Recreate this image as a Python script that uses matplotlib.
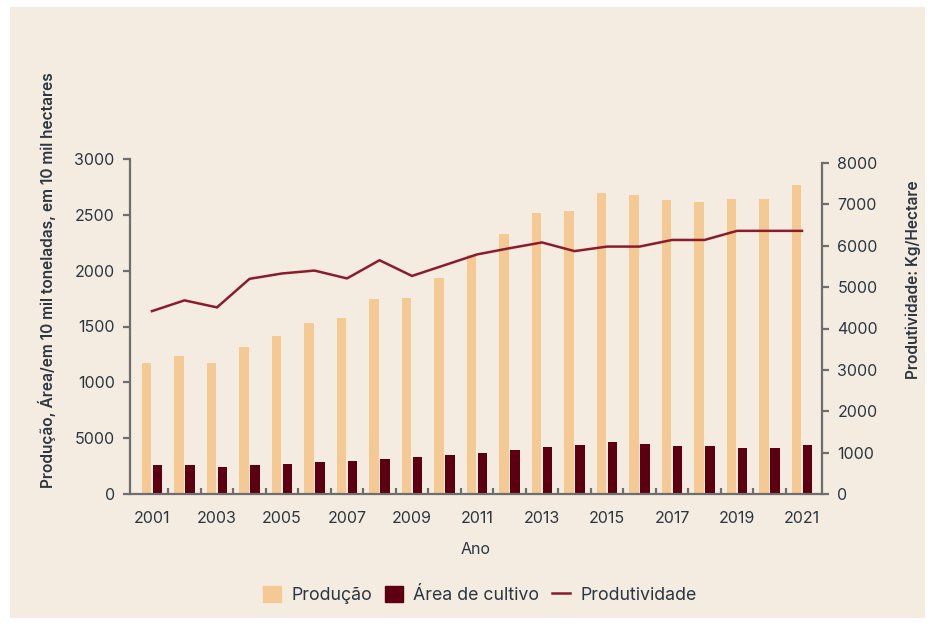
import matplotlib
matplotlib.use("Agg")
import matplotlib.pyplot as plt
import matplotlib.patches as mpatches
from matplotlib.lines import Line2D
import numpy as np

# data
anos = list(range(2001, 2022))
producao = [1173, 1236, 1173, 1316, 1415, 1531, 1576, 1746, 1755, 1934, 2140,
            2328, 2516, 2534, 2695, 2678, 2633, 2615, 2642, 2642, 2767]
area_cultivo = [260, 260, 242, 260, 269, 287, 296, 313, 331, 349, 367,
                394, 421, 439, 466, 448, 430, 430, 412, 412, 439]
produtividade = [4420, 4680, 4510, 5200, 5330, 5400, 5210, 5650, 5270, 5530, 5790,
                 5940, 6080, 5870, 5980, 5980, 6140, 6140, 6360, 6360, 6360]
left_ticks = [0, 500, 1000, 1500, 2000, 2500, 3000]
left_labels = ["0", "5000", "1000", "1500", "2000", "2500", "3000"]
right_ticks = [0, 1000, 2000, 3000, 4000, 5000, 6000, 7000, 8000]
x_labels = [str(a) for a in anos[::2]]

bg = "#f5ece1"
c_prod = "#f5c993"
c_area = "#5c0011"
c_line = "#8b1c2c"
c_axis = "#6e6e6e"
c_text = "#2b3640"

plt.rcParams['font.family'] = ['Inter', 'DejaVu Sans']

fig = plt.figure(figsize=(9.32, 6.23), dpi=100)
fig.patch.set_facecolor("white")
fig.patches.append(mpatches.Rectangle((10 / 932, 5 / 623), 915 / 932, 611 / 623,
                                      transform=fig.transFigure, facecolor=bg,
                                      edgecolor="none", zorder=-10))

ax = fig.add_axes([130 / 932, 129 / 623, 692 / 932, 335 / 623])
ax.set_facecolor("none")
ax2 = ax.twinx()

x = np.array(anos)
w = 0.285
ax.bar(x - 0.17, producao, width=w, color=c_prod, zorder=2)
ax.bar(x + 0.17, area_cultivo, width=w, color=c_area, zorder=2)
ax2.plot(x, produtividade, color=c_line, lw=1.8, zorder=3)

ax.set_xlim(2000.323, 2021.615)
ax.set_ylim(0, 3000)
ax2.set_ylim(0, 8000 * 335 / 331)

ax.set_yticks(left_ticks)
ax.set_yticklabels(left_labels)
ax2.set_yticks(right_ticks)
ax.set_xticks(anos[::2])
ax.set_xticklabels(x_labels)
ax.set_xticks(np.arange(2001.5, 2021, 1.0), minor=True)

for a in (ax, ax2):
    for s in a.spines.values():
        s.set_visible(False)
ax.spines['left'].set_visible(True)
ax.spines['bottom'].set_visible(True)
ax2.spines['right'].set_visible(True)
ax2.spines['right'].set_bounds(0, 8000)
for s in (ax.spines['left'], ax.spines['bottom'], ax2.spines['right']):
    s.set_color(c_axis)
    s.set_linewidth(1.6)

ax.tick_params(axis='y', direction='out', length=5, width=1.6, color=c_axis,
               labelsize=11.5, labelcolor=c_text, pad=6)
ax2.tick_params(axis='y', direction='out', length=5, width=1.6, color=c_axis,
                labelsize=11.5, labelcolor=c_text, pad=6)
ax.tick_params(axis='x', which='major', length=0, labelsize=11.5, labelcolor=c_text, pad=12)
ax.tick_params(axis='x', which='minor', direction='in', length=4, width=1.6, color=c_axis)

ax.set_xlabel("Ano", fontsize=11.5, color=c_text, labelpad=12)
fig.text(47 / 932, 1 - 280 / 623, "Produção, Área/em 10 mil toneladas, em 10 mil hectares",
         rotation=90, ha='center', va='center', fontsize=11.2, fontweight='semibold',
         color=c_text)
fig.text(913 / 932, 1 - 280 / 623, "Produtividade: Kg/Hectare",
         rotation=90, ha='center', va='center', fontsize=11.2, fontweight='semibold',
         color=c_text)

handles = [mpatches.Patch(color=c_prod, label="Produção"),
           mpatches.Patch(color=c_area, label="Área de cultivo"),
           Line2D([0], [0], color=c_line, lw=1.8, label="Produtividade")]
leg = fig.legend(handles=handles, loc='center', bbox_to_anchor=(480 / 932, 1 - 595 / 623),
                 ncol=3, frameon=False, fontsize=12.8, handlelength=1.0, handleheight=1.0,
                 handletextpad=0.6, columnspacing=0.7)
for t in leg.get_texts():
    t.set_color(c_text)

fig.savefig("out.png", dpi=100, facecolor="white")
